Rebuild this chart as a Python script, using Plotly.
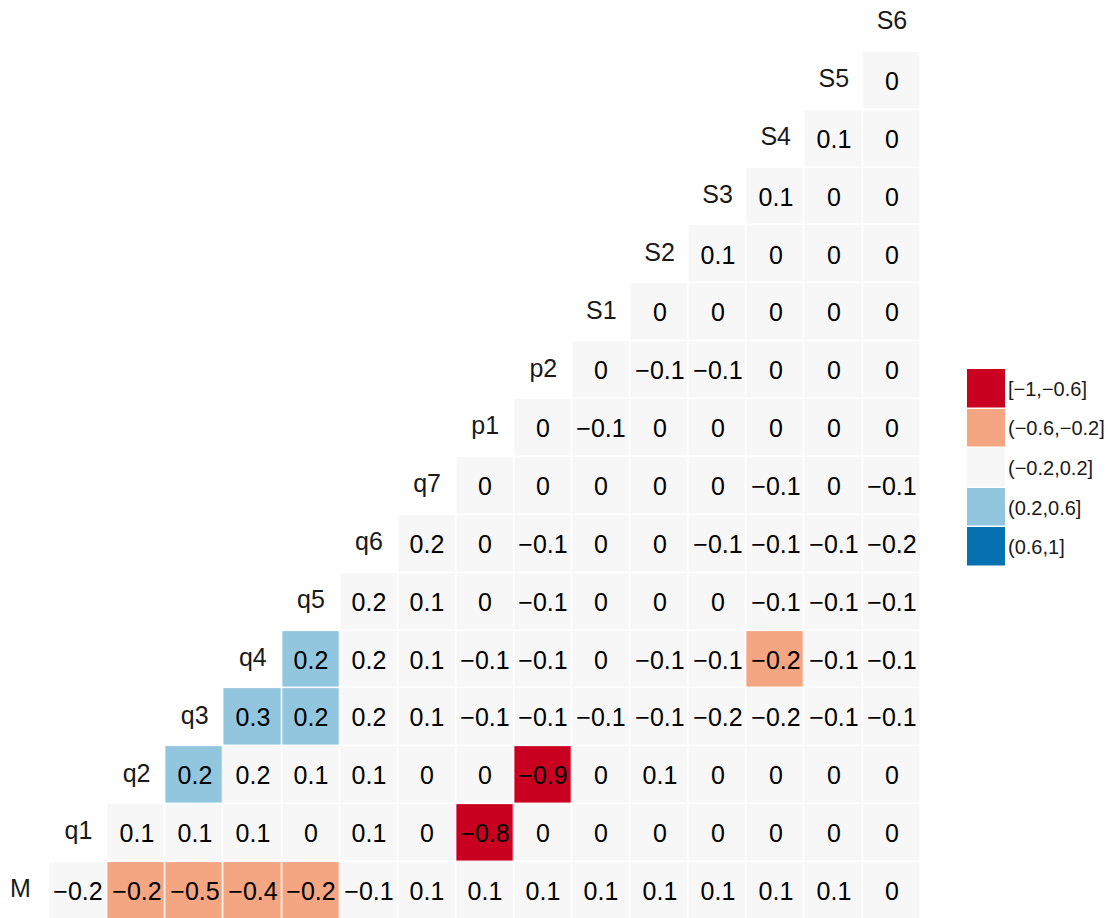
import plotly.graph_objects as go

variables = ["M", "q1", "q2", "q3", "q4", "q5", "q6", "q7",
             "p1", "p2", "S1", "S2", "S3", "S4", "S5", "S6"]

# correlations of each variable with the variables that follow it
r_M = [-0.18, -0.22, -0.5, -0.4, -0.21, -0.1, 0.1, 0.1, 0.1, 0.1, 0.1, 0.1, 0.1, 0.1, 0.0]
r_q1 = [0.1, 0.1, 0.1, 0.0, 0.1, 0.0, -0.8, 0.0, 0.0, 0.0, 0.0, 0.0, 0.0, 0.0]
r_q2 = [0.21, 0.19, 0.1, 0.1, 0.0, 0.0, -0.9, 0.0, 0.1, 0.0, 0.0, 0.0, 0.0]
r_q3 = [0.3, 0.21, 0.19, 0.1, -0.1, -0.1, -0.1, -0.1, -0.19, -0.19, -0.1, -0.1]
r_q4 = [0.21, 0.19, 0.1, -0.1, -0.1, 0.0, -0.1, -0.1, -0.21, -0.1, -0.1]
r_q5 = [0.19, 0.1, 0.0, -0.1, 0.0, 0.0, 0.0, -0.1, -0.1, -0.1]
r_q6 = [0.19, 0.0, -0.1, 0.0, 0.0, -0.1, -0.1, -0.1, -0.19]
r_q7 = [0.0, 0.0, 0.0, 0.0, 0.0, -0.1, 0.0, -0.1]
r_p1 = [0.0, -0.1, 0.0, 0.0, 0.0, 0.0, 0.0]
r_p2 = [0.0, -0.1, -0.1, 0.0, 0.0, 0.0]
r_S1 = [0.0, 0.0, 0.0, 0.0, 0.0]
r_S2 = [0.1, 0.0, 0.0, 0.0]
r_S3 = [0.1, 0.0, 0.0]
r_S4 = [0.1, 0.0]
r_S5 = [0.0]
r_S6 = []

rows = [r_M, r_q1, r_q2, r_q3, r_q4, r_q5, r_q6, r_q7,
        r_p1, r_p2, r_S1, r_S2, r_S3, r_S4, r_S5, r_S6]

bin_labels = ["[\u22121,\u22120.6]", "(\u22120.6,\u22120.2]", "(\u22120.2,0.2]",
              "(0.2,0.6]", "(0.6,1]"]
bin_colors = ["#CA0020", "#F4A582", "#F7F7F7", "#92C5DE", "#0571B0"]
bin_upper = [-0.6, -0.2, 0.2, 0.6, 1.0]


def bin_index(v):
    for k, ub in enumerate(bin_upper):
        if v <= ub + 1e-12:
            return k
    return len(bin_upper) - 1


def fmt(v):
    r = round(v, 1)
    if r == 0:
        return "0"
    return f"{r:g}".replace("-", "\u2212")


n = len(variables)
z = [[None] * n for _ in range(n)]
txt = [[""] * n for _ in range(n)]
for i, row in enumerate(rows):
    for k, v in enumerate(row):
        j = i + 1 + k
        z[i][j] = bin_index(v)
        txt[i][j] = fmt(v)

colorscale = []
for k, c in enumerate(bin_colors):
    colorscale.append([k / len(bin_colors), c])
    colorscale.append([(k + 1) / len(bin_colors), c])

FONT = "Liberation Sans, Arial, sans-serif"
W, H = 1111, 910  # page body has an 8px margin

fig = go.Figure()
fig.add_trace(go.Heatmap(
    z=z, x=list(range(n)), y=list(range(n)), text=txt,
    texttemplate="%{text}", textfont=dict(size=25, color="#000000", family=FONT),
    colorscale=colorscale, zmin=-0.5, zmax=4.5, showscale=False,
    xgap=1.5, ygap=1.5, hoverinfo="skip",
))
fig.add_trace(go.Scatter(
    x=list(range(n)), y=list(range(n)), mode="text", text=variables,
    textposition="middle center", cliponaxis=False,
    textfont=dict(size=25, color="#1a1a1a", family=FONT),
    hoverinfo="skip", showlegend=False,
))

# legend as a small heatmap on its own axes
leg_idx = list(range(len(bin_labels)))
fig.add_trace(go.Heatmap(
    z=[[k] for k in leg_idx], x=[0], y=leg_idx,
    colorscale=colorscale, zmin=-0.5, zmax=4.5, showscale=False,
    ygap=1.5, hoverinfo="skip", xaxis="x2", yaxis="y2",
))
for k, lab in enumerate(bin_labels):
    fig.add_annotation(
        x=998 / W, xref="paper", y=k, yref="y2", text=lab,
        showarrow=False, xanchor="left", yanchor="middle",
        font=dict(size=20, color="#1a1a1a", family=FONT),
    )

fig.update_layout(
    width=W, height=H,
    margin=dict(l=0, r=0, t=0, b=0),
    paper_bgcolor="white", plot_bgcolor="white",
    showlegend=False,
    xaxis=dict(domain=[0, 913 / W], range=[-0.213, 15.5], visible=False, fixedrange=True),
    yaxis=dict(domain=[0, 1], range=[-0.465, 15.26], visible=False, fixedrange=True),
    xaxis2=dict(domain=[959 / W, 997 / W], range=[-0.5, 0.5], visible=False,
                anchor="y2"),
    yaxis2=dict(domain=[1 - 559 / H, 1 - 361 / H], range=[4.5, -0.5], visible=False,
                anchor="x2"),
)

fig.write_html("out.html")
